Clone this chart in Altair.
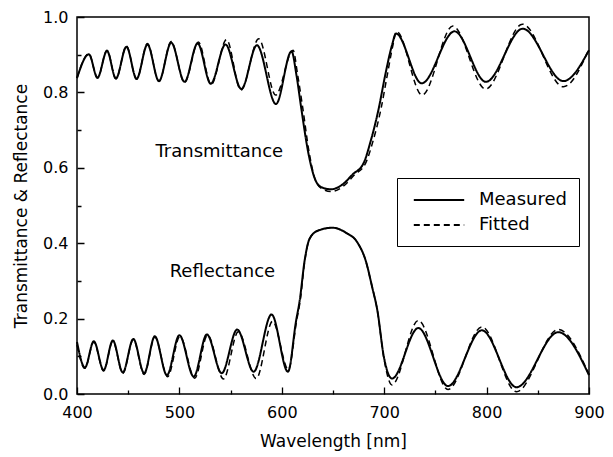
import altair as alt
import pandas as pd

# ---- data ----
t_meas_wl = [400, 411.6, 420, 429.3, 438, 448.3, 458.2, 468.8, 480, 492, 505, 517.8, 530.6, 545, 560.5,
             575.7, 594.3, 609.5, 614.3, 619, 625.6, 632, 638.4, 648, 659.4, 669, 680, 686.7, 694.7,
             701, 707.6, 711.5, 736.6, 768.7, 799.3, 835.3, 875, 900]
t_meas_val = [0.838, 0.901, 0.839, 0.910, 0.837, 0.921, 0.836, 0.927, 0.830, 0.932, 0.828, 0.930, 0.823,
              0.927, 0.809, 0.925, 0.769, 0.909, 0.846, 0.758, 0.644, 0.573, 0.549, 0.543, 0.556, 0.582,
              0.613, 0.670, 0.758, 0.846, 0.925, 0.956, 0.824, 0.962, 0.828, 0.969, 0.830, 0.912]

t_fit_wl = [400, 411.6, 420, 429.3, 438, 448.3, 458.2, 468.8, 480, 492, 505, 518.5, 531, 546, 560,
            577.5, 594, 611, 615.5, 620.5, 626.5, 632.5, 639, 648.5, 660, 670.5, 682, 689, 697,
            703, 708.5, 712, 737, 767, 799, 835, 875, 900]
t_fit_val = [0.838, 0.903, 0.838, 0.912, 0.836, 0.923, 0.835, 0.930, 0.829, 0.935, 0.826, 0.934, 0.821,
             0.940, 0.806, 0.942, 0.793, 0.912, 0.846, 0.758, 0.644, 0.570, 0.545, 0.537, 0.551, 0.580,
             0.613, 0.670, 0.758, 0.846, 0.925, 0.962, 0.793, 0.976, 0.809, 0.981, 0.815, 0.915]

r_meas_wl = [400, 407.7, 416.4, 426, 435, 444.7, 455, 465.6, 476, 487.8, 500, 514, 526.8, 541.3, 556.4,
             572.5, 590, 606, 614, 617.5, 622.3, 627, 635, 649.7, 662.5, 673.8, 681.9, 688.3, 693.3,
             699.7, 707.6, 733.3, 762.3, 795.4, 829.2, 870, 900]
r_meas_val = [0.138, 0.070, 0.140, 0.063, 0.142, 0.057, 0.146, 0.055, 0.153, 0.050, 0.156, 0.046, 0.158,
              0.055, 0.171, 0.059, 0.211, 0.059, 0.195, 0.248, 0.354, 0.411, 0.433, 0.441, 0.428, 0.402,
              0.354, 0.283, 0.222, 0.098, 0.041, 0.175, 0.021, 0.169, 0.018, 0.164, 0.050]

r_fit_wl = [400, 407.7, 416.4, 426, 435, 444.7, 455, 465.6, 476, 488.5, 500.5, 515, 527.5, 543, 557.5,
            575, 591, 606.5, 614.5, 618, 622.5, 627, 635, 649.7, 662.5, 673.8, 681.9, 688.3, 693.3,
            699.5, 707.6, 733.3, 762.3, 795.4, 829.2, 870, 900]
r_fit_val = [0.130, 0.068, 0.138, 0.061, 0.140, 0.055, 0.144, 0.052, 0.151, 0.046, 0.153, 0.042, 0.156,
             0.040, 0.165, 0.041, 0.193, 0.065, 0.195, 0.248, 0.354, 0.411, 0.433, 0.441, 0.428, 0.402,
             0.354, 0.283, 0.222, 0.098, 0.024, 0.195, 0.012, 0.178, 0.006, 0.171, 0.052]

x_ticks = [400, 450, 500, 550, 600, 650, 700, 750, 800, 850, 900]
y_ticks = [0.0, 0.1, 0.2, 0.3, 0.4, 0.5, 0.6, 0.7, 0.8, 0.9, 1.0]

annotations = {"Transmittance": (539, 0.642), "Reflectance": (542, 0.323)}

FONT = "DejaVu Sans"


def frame(wl, val, curve, kind):
    return pd.DataFrame({"wl": wl, "val": val, "curve": curve, "kind": kind})


meas = pd.concat([frame(t_meas_wl, t_meas_val, "T", "Measured"),
                  frame(r_meas_wl, r_meas_val, "R", "Measured")])
fit = pd.concat([frame(t_fit_wl, t_fit_val, "T", "Fitted"),
                 frame(r_fit_wl, r_fit_val, "R", "Fitted")])
ann = pd.DataFrame({"label": list(annotations.keys()),
                    "wl": [v[0] for v in annotations.values()],
                    "val": [v[1] for v in annotations.values()]})

xs = alt.Scale(domain=[400, 900], nice=False, zero=False)
ys = alt.Scale(domain=[0, 1], nice=False, zero=False)
dash = alt.Scale(domain=["Measured", "Fitted"], range=[[1, 0], [6, 4]])

x_major = "datum.value % 100 === 0"
y_major = "round(datum.value * 10) % 2 === 0"

x_axis = alt.Axis(values=x_ticks, orient="bottom", offset=-7, tickSize=7, domain=False, grid=False,
                  labelExpr=f"{x_major} ? datum.label : ''", labelFlush=False, labelOverlap=False,
                  tickDash={"condition": {"test": x_major, "value": [1, 0]}, "value": [0, 3, 4, 10]},
                  labelPadding=10, labelFontSize=16, labelFont=FONT, labelColor="black",
                  tickColor="black", tickWidth=1.3, title="Wavelength [nm]", titleFont=FONT,
                  titleFontSize=17, titleFontWeight="normal", titleColor="black", titlePadding=13)
y_axis = alt.Axis(values=y_ticks, orient="left", offset=-7, tickSize=7, domain=False, grid=False,
                  labelExpr=f"{y_major} ? format(datum.value, '.1f') : ''", labelFlush=False,
                  labelOverlap=False,
                  tickDash={"condition": {"test": y_major, "value": [1, 0]}, "value": [0, 3, 4, 10]},
                  labelPadding=9, labelFontSize=16, labelFont=FONT, labelColor="black",
                  tickColor="black", tickWidth=1.3, title="Transmittance & Reflectance",
                  titleFont=FONT, titleFontSize=17, titleFontWeight="normal", titleColor="black",
                  titlePadding=12)

legend = alt.Legend(title=None, orient="none", legendX=320, legendY=161,
                    symbolType="M-2.8,0H2.8", symbolSize=324, symbolStrokeWidth=1.8,
                    symbolStrokeColor="black", symbolFillColor="transparent", symbolOffset=20,
                    labelFont=FONT, labelFontSize=18, labelColor="black", labelOffset=30,
                    strokeColor="black", padding=12, rowPadding=6, fillColor="white")

meas_line = alt.Chart(meas).mark_line(color="black", strokeWidth=2, interpolate="monotone").encode(
    x=alt.X("wl:Q", scale=xs, axis=x_axis),
    y=alt.Y("val:Q", scale=ys, axis=y_axis),
    detail="curve:N",
    strokeDash=alt.StrokeDash("kind:N", scale=dash, legend=legend),
)
fit_line = alt.Chart(fit).mark_line(color="black", strokeWidth=1.5, interpolate="monotone").encode(
    x=alt.X("wl:Q", scale=xs, axis=x_axis),
    y=alt.Y("val:Q", scale=ys, axis=y_axis),
    detail="curve:N",
    strokeDash=alt.StrokeDash("kind:N", scale=dash, legend=legend),
)
text = alt.Chart(ann).mark_text(font=FONT, fontSize=18, color="black").encode(
    x=alt.X("wl:Q", scale=xs, axis=x_axis),
    y=alt.Y("val:Q", scale=ys, axis=y_axis),
    text="label:N")

chart = alt.layer(meas_line, fit_line, text).properties(
    width=512, height=377,
    autosize=alt.AutoSizeParams(type="none"),
    padding={"left": 69, "top": 9, "right": 16, "bottom": 62},
    background="white",
).configure_view(stroke="black", strokeWidth=1.5)

chart.save("out.html", embed_options={"renderer": "svg", "actions": False})
